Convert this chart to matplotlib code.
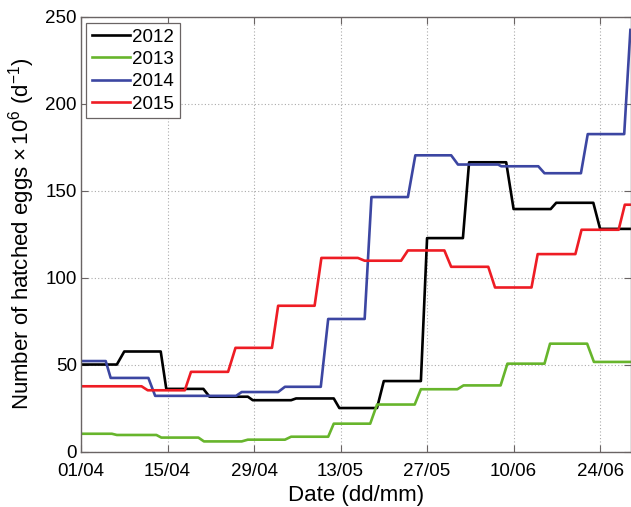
import numpy as np
import matplotlib.pyplot as plt

plt.rcParams['font.family'] = ['Liberation Sans', 'DejaVu Sans']
plt.rcParams['mathtext.fontset'] = 'custom'
plt.rcParams['mathtext.rm'] = 'Liberation Sans'
plt.rcParams['mathtext.it'] = 'Liberation Sans:italic'

# days counted from 01/04, values in 10^6 eggs per day
days_2012 = [0, 5.8, 7, 12.9, 13.8, 19.8, 20.8, 27, 27.8, 34, 34.8, 40.9, 41.8, 47.9, 49,
             55, 56, 61.8, 62.8, 68.8, 70, 76, 76.9, 82.9, 84, 89]
eggs_2012 = [50, 50, 57.5, 57.5, 36, 36, 31.5, 31.5, 29.5, 29.5, 30.5, 30.5, 25, 25, 40.5,
             40.5, 122.7, 122.7, 166.3, 166.3, 139.4, 139.4, 143, 143, 128, 128]

days_2013 = [0, 5, 5.8, 12.2, 13, 19, 19.9, 26, 27, 33, 34, 40, 40.9, 46.8, 47.9, 54, 55,
             60.9, 61.9, 67.9, 69, 75, 75.9, 81.9, 83, 89]
eggs_2013 = [10.2, 10.2, 9.5, 9.5, 8, 8, 5.8, 5.8, 6.8, 6.8, 8.5, 8.5, 16, 16, 27, 27, 35.8,
             35.8, 38, 38, 50.5, 50.5, 62, 62, 51.5, 51.5]

days_2014 = [0, 4, 4.8, 10.9, 12, 25.1, 26, 31.9, 33, 38.8, 40, 45.9, 47, 52.9, 54.1, 59.9,
             61, 67.5, 68, 74, 75, 80.9, 82, 87.9, 88.9]
eggs_2014 = [52, 52, 42.3, 42.3, 32, 32, 34.2, 34.2, 37.2, 37.2, 76.2, 76.2, 146.3, 146.3,
             170.3, 170.3, 165, 165, 164, 164, 160, 160, 182.5, 182.5, 242.4]

days_2015 = [0, 9.8, 10.8, 16.8, 17.8, 23.8, 25, 30.9, 31.9, 37.8, 38.9, 44.8, 45.9, 51.8,
             52.9, 58.8, 59.9, 65.9, 67, 72.9, 73.9, 80, 81, 87, 88, 89]
eggs_2015 = [37.5, 37.5, 35.2, 35.2, 45.8, 45.8, 59.6, 59.6, 83.8, 83.8, 111.3, 111.3, 109.7,
             109.7, 115.6, 115.6, 106.2, 106.2, 94.3, 94.3, 113.5, 113.5, 127.5, 127.5,
             141.9, 141.9]

tick_days = [0, 14, 28, 42, 56, 70, 84]
tick_labels = ['01/04', '15/04', '29/04', '13/05', '27/05', '10/06', '24/06']

fig = plt.figure(figsize=(6.31, 5.07), dpi=100)
ax = fig.add_axes([81 / 631, 55.5 / 507, 550 / 631, 434.8 / 507])

ax.plot(days_2012, eggs_2012, color='black', lw=1.9, label='2012')
ax.plot(days_2013, eggs_2013, color='#67b52c', lw=1.9, label='2013')
ax.plot(days_2014, eggs_2014, color='#3c46a2', lw=1.9, label='2014')
ax.plot(days_2015, eggs_2015, color='#ee1c24', lw=1.9, label='2015')

ax.set_xlim(0, 89)
ax.set_ylim(0, 250)
ax.set_xticks(tick_days)
ax.set_xticklabels(tick_labels)
ax.set_yticks(np.arange(0, 251, 50))
ax.tick_params(direction='in', top=True, right=True, length=5, width=0.8,
               color='#6a6464', labelsize=13.5)
ax.tick_params(axis='x', pad=8)
ax.tick_params(axis='y', pad=3)
for s in ax.spines.values():
    s.set_color('#6a6464')
    s.set_linewidth(1.0)
ax.grid(True, linestyle=(0, (1, 2)), color='#aaaaaa', lw=0.8)

ax.set_xlabel('Date (dd/mm)', fontsize=16, labelpad=4)
ax.set_ylabel(r'Number of hatched eggs $\mathregular{\times\,10^{6}}$ (d$\mathregular{^{-1}}$)',
              fontsize=16, labelpad=6)

leg = ax.legend(loc='upper left', bbox_to_anchor=(0.01, 0.986), borderaxespad=0,
                fontsize=13.5, handlelength=2.0, handletextpad=0.15, labelspacing=0.28,
                borderpad=0.3, fancybox=False, framealpha=1)
leg.get_frame().set_edgecolor('#6a6464')
leg.get_frame().set_linewidth(0.9)

plt.savefig('out.png', dpi=100)
